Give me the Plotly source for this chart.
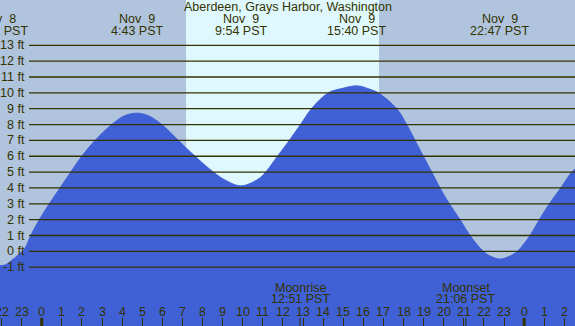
import plotly.graph_objects as go

# ---- data (hours relative to Nov 9 00:00 PST, heights in ft) ----
tide_hours = [-2.075, -1.826, -1.577, -1.328, -1.080, -0.831, -0.547, -0.119, 0.378, 0.910,
              1.443, 1.990, 2.652, 3.483, 4.095, 4.716, 5.337, 5.970, 6.796, 7.627, 8.537,
              9.119, 9.915, 10.761, 11.109, 11.731, 12.318, 12.876, 13.423, 14.259, 14.990,
              15.711, 16.338, 16.746, 17.662, 18.159, 18.572, 18.985, 19.403, 19.816, 20.279,
              20.811, 21.308, 21.970, 22.303, 22.801, 23.299, 23.662, 24.294, 24.756, 25.254,
              25.821, 26.368, 26.532]
tide_ft = [-0.90, -0.86, -0.65, -0.40, -0.12, 0.20, 1.0, 2.0, 3.0, 4.0,
           5.0, 6.0, 7.0, 8.0, 8.54, 8.72, 8.54, 8.0, 7.0, 6.0, 5.0,
           4.50, 4.13, 4.55, 4.95, 6.0, 7.0, 8.0, 9.0, 10.0, 10.29,
           10.44, 10.22, 10.0, 9.0, 8.0, 7.0, 6.0, 5.0, 4.0, 3.0,
           2.0, 1.0, 0.0, -0.29, -0.49, -0.29, 0.0, 1.0, 2.0, 3.0,
           4.0, 5.0, 5.19]

extreme_hours = [-2.15, 4.717, 9.9, 15.667, 22.783]
extreme_days = ["Nov\u00a0\u00a08", "Nov\u00a0\u00a09", "Nov\u00a0\u00a09", "Nov\u00a0\u00a09", "Nov\u00a0\u00a09"]
extreme_times = ["21:51 PST", "4:43 PST", "9:54 PST", "15:40 PST", "22:47 PST"]

moon_hours = [12.85, 21.1]
moon_names = ["Moonrise", "Moonset"]
moon_times = ["12:51 PST", "21:06 PST"]

sunrise_hour = 7.18
sunset_hour = 16.78

hour_ticks = list(range(-2, 27))
hour_labels = [str(h % 24) for h in hour_ticks]
midnights = [0, 24]

ft_levels = list(range(-1, 14))
ft_labels = [f"{v} ft" for v in ft_levels]

title = "Aberdeen, Grays Harbor, Washington"

# ---- style ----
NIGHT = "#B0C4DE"
DAY = "#DFF8FE"
WATER = "#4060D6"
INK = "#333300"
FONT = "Liberation Sans"
FS = 12.5
X_RANGE = [-2.075, 26.53]
Y_RANGE = [-4.71, 15.86]
W, H = 575, 326


def xpaper(h):
    return (h - X_RANGE[0]) / (X_RANGE[1] - X_RANGE[0])


fig = go.Figure()
fig.add_trace(go.Scatter(x=[X_RANGE[0], X_RANGE[1]], y=[Y_RANGE[0], Y_RANGE[0]],
                         mode="lines", line=dict(width=0), hoverinfo="skip", showlegend=False))
fig.add_trace(go.Scatter(x=tide_hours, y=tide_ft, mode="lines", fill="tonexty",
                         fillcolor=WATER, line=dict(color=WATER, width=1, shape="spline", smoothing=1.0),
                         showlegend=False))

shapes = [dict(type="rect", xref="x", yref="paper", x0=sunrise_hour, x1=sunset_hour, y0=0, y1=1,
               fillcolor=DAY, line=dict(width=0), layer="below")]
for v in ft_levels:
    shapes.append(dict(type="line", xref="paper", yref="y", x0=29 / W, x1=1, y0=v, y1=v,
                       line=dict(color=INK, width=1.3), layer="above"))
for m in midnights:
    shapes.append(dict(type="line", xref="x", yref="paper", x0=m, x1=m, y0=0, y1=8 / H,
                       line=dict(color=INK, width=3), layer="above"))
for m in moon_hours:
    shapes.append(dict(type="line", xref="x", yref="paper", x0=m, x1=m, y0=0, y1=8 / H,
                       line=dict(color=INK, width=1), layer="above"))


def txt(text, x, y, yref="paper", xanchor="center"):
    return dict(text=text, x=x, xref="paper", y=y, yref=yref, showarrow=False,
                font=dict(family=FONT, size=FS, color=INK), xanchor=xanchor, yanchor="middle")


ann = [txt(title, 0.5, 1 - 7 / H)]
for h, d, t in zip(extreme_hours, extreme_days, extreme_times):
    ann.append(txt(d, xpaper(h), 1 - 19 / H))
    ann.append(txt(t, xpaper(h), 1 - 31 / H))
for h, n, t in zip(moon_hours, moon_names, moon_times):
    ann.append(txt(n, xpaper(h), 1 - 288 / H))
    ann.append(txt(t, xpaper(h), 1 - 299 / H))
for v, lab in zip(ft_levels, ft_labels):
    ann.append(txt(lab, 27 / W, v, yref="y", xanchor="right"))
for h, lab in zip(hour_ticks, hour_labels):
    ann.append(txt(lab, xpaper(h), 1 - 312 / H))

fig.update_layout(
    width=W, height=H, margin=dict(l=0, r=0, t=0, b=0),
    paper_bgcolor=NIGHT, plot_bgcolor=NIGHT,
    shapes=shapes, annotations=ann, showlegend=False,
    xaxis=dict(range=X_RANGE, showgrid=False, zeroline=False, showline=False,
               tickvals=hour_ticks, ticks="inside", ticklen=8, tickwidth=1, tickcolor=INK,
               showticklabels=False, layer="above traces", fixedrange=True),
    yaxis=dict(range=Y_RANGE, showgrid=False, zeroline=False, showline=False,
               showticklabels=False, fixedrange=True),
)
fig.write_html("out.html", config={"displayModeBar": False},
               post_script="document.body.style.margin='0';document.body.style.overflow='hidden';")
